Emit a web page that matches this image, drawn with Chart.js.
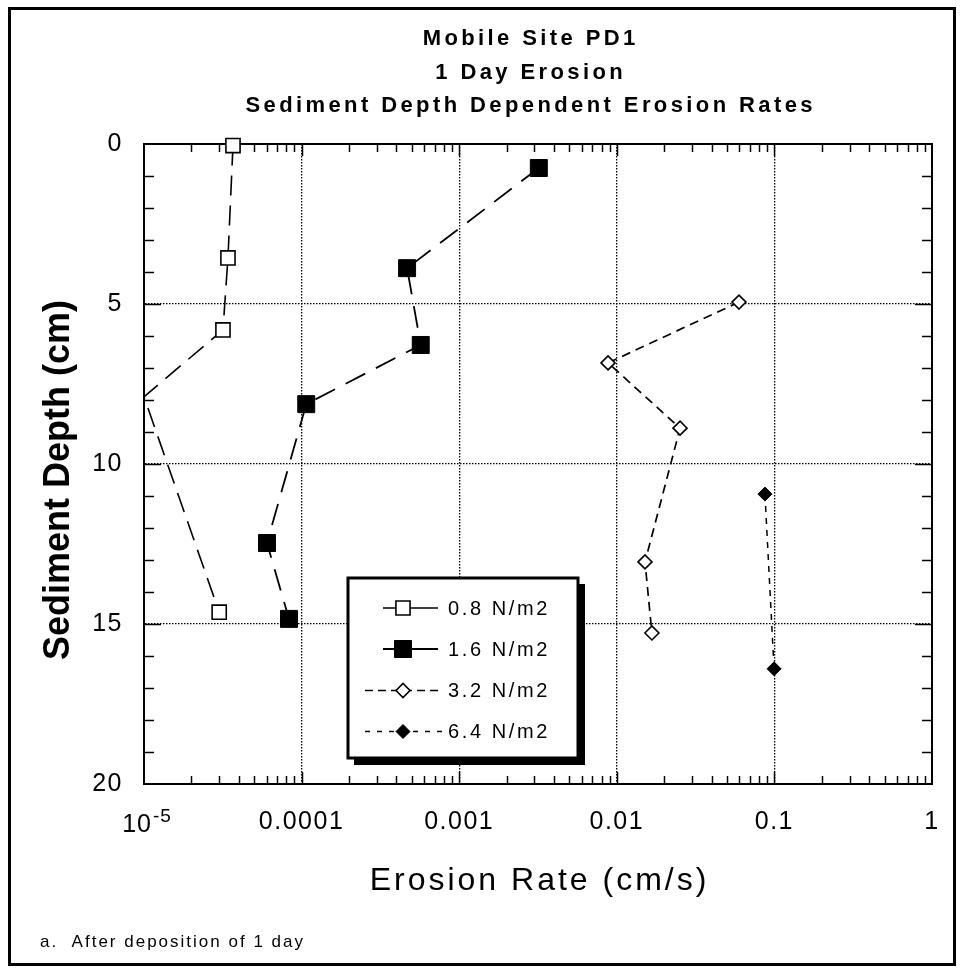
<!DOCTYPE html>
<html><head><meta charset="utf-8">
<script src="https://cdn.jsdelivr.net/npm/chart.js@4.4.1/dist/chart.umd.min.js"></script>
<style>html,body{margin:0;padding:0;background:#fff;}canvas{display:block;}</style>
</head><body>
<canvas id="c" width="964" height="968"></canvas>
<script>
// ---- text ----
const titleLines = ['Mobile Site PD1', '1 Day Erosion', 'Sediment Depth Dependent Erosion Rates'];
const xAxisTitle = 'Erosion Rate (cm/s)';
const yAxisTitle = 'Sediment Depth (cm)';
const footnote = 'a.  After deposition of 1 day';
const seriesNames = ['0.8 N/m2', '1.6 N/m2', '3.2 N/m2', '6.4 N/m2'];

// ---- data (erosion rate cm/s, sediment depth cm) ----
const rate08 = [3.67e-5, 3.41e-5, 3.17e-5, 1e-5, 3.0e-5];
const depth08 = [0.05, 3.56, 5.81, 7.9, 14.63];
const rate16 = [3.2e-3, 4.67e-4, 5.7e-4, 1.07e-4, 6.03e-5, 8.32e-5];
const depth16 = [0.75, 3.88, 6.28, 8.13, 12.47, 14.84];
const rate32 = [0.0596, 0.0088, 0.0252, 0.0151, 0.0167];
const depth32 = [4.94, 6.84, 8.88, 13.06, 15.28];
const rate64 = [0.0871, 0.0995];
const depth64 = [10.94, 16.4];

// ---- ticks ----
const xTickValues = [1e-5, 1e-4, 1e-3, 1e-2, 1e-1, 1];
const xTickLabels = ['10^-5', '0.0001', '0.001', '0.01', '0.1', '1'];
const yTickValues = [0, 5, 10, 15, 20];
const yTickLabels = ['0', '5', '10', '15', '20'];

const FONT = "'Liberation Sans', Arial, Helvetica, sans-serif";
const pts = (xs, ys) => xs.map((v, i) => ({x: v, y: ys[i]}));

const datasets = [
  {label: seriesNames[0], data: pts(rate08, depth08), borderColor: '#000', backgroundColor: '#fff',
   borderWidth: 1.6, borderDash: [20, 10], pointStyle: 'rect', pointRadius: c => (c.raw && c.raw.x <= 1e-5 ? 0 : 10),
   pointBorderWidth: 1.6, pointBackgroundColor: '#fff', pointBorderColor: '#000'},
  {label: seriesNames[1], data: pts(rate16, depth16), borderColor: '#000', backgroundColor: '#000',
   borderWidth: 1.8, borderDash: [22, 12], pointStyle: 'rect', pointRadius: 12,
   pointBorderWidth: 1, pointBackgroundColor: '#000', pointBorderColor: '#000'},
  {label: seriesNames[2], data: pts(rate32, depth32), borderColor: '#000', backgroundColor: '#fff',
   borderWidth: 1.7, borderDash: [9, 6], pointStyle: 'rectRot', pointRadius: 7,
   pointBorderWidth: 1.6, pointBackgroundColor: '#fff', pointBorderColor: '#000'},
  {label: seriesNames[3], data: pts(rate64, depth64), borderColor: '#000', backgroundColor: '#000',
   borderWidth: 1.5, borderDash: [6, 6], pointStyle: 'rectRot', pointRadius: 7,
   pointBorderWidth: 1, pointBackgroundColor: '#000', pointBorderColor: '#000'}
];
datasets.forEach(d => { d.showLine = true; d.clip = false; d.tension = 0; });

function spacedText(ctx, text, x, y, spacing, align) {
  ctx.letterSpacing = spacing + 'px';
  ctx.textAlign = align;
  const off = align === 'center' ? spacing / 2 : (align === 'right' ? spacing : 0);
  ctx.fillText(text, x + off, y);
  ctx.letterSpacing = '0px';
}

const decorPlugin = {
  id: 'decor',
  beforeDraw(chart) {
    const ctx = chart.ctx;
    ctx.save();
    ctx.fillStyle = '#fff';
    ctx.fillRect(0, 0, chart.width, chart.height);
    ctx.restore();
    ctx.letterSpacing = '1.5px';
  },
  beforeDatasetsDraw(chart) {
    const {ctx, chartArea: a, scales: {x, y}} = chart;
    ctx.save();
    ctx.letterSpacing = '0px';
    ctx.strokeStyle = '#000';
    ctx.setLineDash([]);
    ctx.lineWidth = 1.5;
    ctx.beginPath();
    for (let d = -5; d < 0; d++) {
      for (let m = 1; m <= 9; m++) {
        if (d === -5 && m === 1) continue;
        const px = Math.round(x.getPixelForValue(m * Math.pow(10, d))) + 0.5;
        const len = m === 1 ? 12 : 8;
        ctx.moveTo(px, a.bottom); ctx.lineTo(px, a.bottom - len);
        ctx.moveTo(px, a.top); ctx.lineTo(px, a.top + len);
      }
    }
    for (let v = 1; v < 20; v++) {
      const py = Math.round(y.getPixelForValue(v)) + 0.5;
      const len = v % 5 === 0 ? 17 : 10;
      ctx.moveTo(a.left, py); ctx.lineTo(a.left + len, py);
      ctx.moveTo(a.right, py); ctx.lineTo(a.right - len, py);
    }
    ctx.stroke();
    ctx.lineWidth = 2;
    ctx.strokeRect(a.left, a.top, a.right - a.left, a.bottom - a.top);
    ctx.restore();
  },
  afterDraw(chart) {
    const {ctx, chartArea: a, scales: {x}} = chart;
    ctx.save();
    ctx.letterSpacing = '0px';
    ctx.fillStyle = '#000';
    ctx.textBaseline = 'alphabetic';
    // figure frame
    ctx.strokeStyle = '#000';
    ctx.lineWidth = 3;
    ctx.strokeRect(9.5, 8.5, 945, 956);
    // titles
    ctx.font = 'bold 22px ' + FONT;
    const tcx = 529;
    [45, 79, 112].forEach((by, i) => spacedText(ctx, titleLines[i], tcx, by, 3.4, 'center'));
    // x axis title
    ctx.font = '32px ' + FONT;
    spacedText(ctx, xAxisTitle, (a.left + a.right) / 2, 890, 3, 'center');
    // y axis title
    ctx.save();
    ctx.translate(69, 480);
    ctx.rotate(-Math.PI / 2);
    ctx.font = 'bold 36px ' + FONT;
    spacedText(ctx, yAxisTitle, 0, 0, 0, 'center');
    ctx.restore();
    // footnote
    ctx.font = '17px ' + FONT;
    spacedText(ctx, footnote, 40, 947, 2, 'left');
    // superscript tick label(s)
    xTickLabels.forEach((lab, i) => {
      if (lab.indexOf('^') < 0) return;
      const [base, exp] = lab.split('^');
      const px = x.getPixelForValue(xTickValues[i]);
      ctx.font = '25px ' + FONT;
      spacedText(ctx, base, px + 7, 832, 1, 'right');
      ctx.font = '19px ' + FONT;
      spacedText(ctx, exp, px + 9, 822, 1, 'left');
    });
    // legend
    const L = {x: 348, y: 578, w: 230, h: 180};
    ctx.fillStyle = '#000';
    ctx.fillRect(L.x + 6, L.y + 6, L.w + 1, L.h + 1);
    ctx.fillStyle = '#fff';
    ctx.fillRect(L.x, L.y, L.w, L.h);
    ctx.lineWidth = 3;
    ctx.strokeStyle = '#000';
    ctx.strokeRect(L.x, L.y, L.w, L.h);
    const rows = [608, 649, 690.5, 731.5];
    const legLine = [[383, 438, []], [383, 438, []], [365, 442, [8, 5]], [365, 442, [5, 7]]];
    chart.data.datasets.forEach((ds, i) => {
      const ry = rows[i];
      ctx.save();
      ctx.strokeStyle = '#000';
      ctx.lineWidth = ds.borderWidth;
      ctx.setLineDash(legLine[i][2]);
      ctx.beginPath();
      ctx.moveTo(legLine[i][0], ry); ctx.lineTo(legLine[i][1], ry);
      ctx.stroke();
      ctx.setLineDash([]);
      ctx.fillStyle = ds.pointBackgroundColor;
      ctx.strokeStyle = ds.pointBorderColor;
      ctx.lineWidth = ds.pointBorderWidth;
      const r = typeof ds.pointRadius === 'function' ? 10 : ds.pointRadius;
      Chart.helpers.drawPoint(ctx, {pointStyle: ds.pointStyle, radius: r, rotation: 0, borderWidth: ds.pointBorderWidth}, 403, ry);
      ctx.restore();
      ctx.fillStyle = '#000';
      ctx.font = '20px ' + FONT;
      ctx.textBaseline = 'middle';
      spacedText(ctx, ds.label, 448, ry + 1, 2.6, 'left');
    });
    ctx.restore();
  }
};

new Chart(document.getElementById('c'), {
  type: 'scatter',
  data: {datasets},
  options: {
    responsive: false,
    animation: false,
    devicePixelRatio: 1,
    layout: {padding: {top: 144, right: 32, left: 0, bottom: 0}},
    plugins: {legend: {display: false}, title: {display: false}, tooltip: {enabled: false}},
    elements: {line: {fill: false}},
    scales: {
      x: {
        type: 'logarithmic', min: 1e-5, max: 1, position: 'bottom',
        afterBuildTicks: s => { s.ticks = xTickValues.map(v => ({value: v})); },
        afterFit: s => { s.height = 184; },
        grid: {color: '#000', lineWidth: 1.3, drawTicks: false},
        border: {display: true, color: '#000', width: 2, dash: [1.5, 1.5]},
        ticks: {
          autoSkip: false, maxRotation: 0, minRotation: 0, padding: 23, color: '#000',
          font: {family: FONT, size: 25},
          callback: (v, i) => (xTickLabels[i].indexOf('^') >= 0 ? '' : xTickLabels[i])
        }
      },
      y: {
        type: 'linear', min: 0, max: 20, reverse: true,
        afterBuildTicks: s => { s.ticks = yTickValues.map(v => ({value: v})); },
        afterFit: s => { s.width = 144; },
        grid: {color: '#000', lineWidth: 1.3, drawTicks: false},
        border: {display: true, color: '#000', width: 2, dash: [1.5, 1.5]},
        ticks: {
          padding: 21, color: '#000', font: {family: FONT, size: 25},
          callback: (v, i) => yTickLabels[i]
        }
      }
    }
  },
  plugins: [decorPlugin]
});
</script>
</body></html>
